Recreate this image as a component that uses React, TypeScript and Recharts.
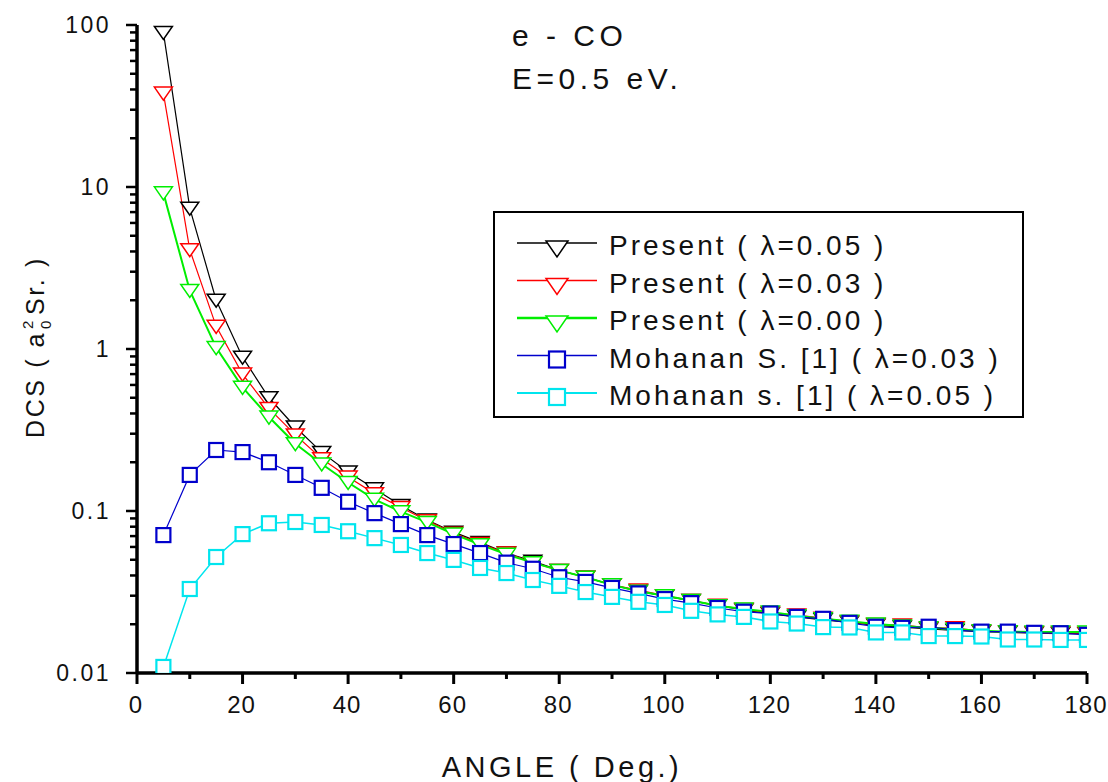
import React from "react";
import {
  LineChart,
  Line,
  XAxis,
  YAxis,
  Legend,
} from "recharts";

// Scattering angles (deg.)
const angles = [
  5, 10, 15, 20, 25, 30, 35, 40, 45, 50, 55, 60, 65, 70, 75, 80, 85, 90,
  95, 100, 105, 110, 115, 120, 125, 130, 135, 140, 145, 150, 155, 160, 165, 170, 175, 180,
];

// Present ( λ=0.05 )
const present005 = [
  90, 7.4, 2.0, 0.89, 0.5, 0.33, 0.23, 0.174, 0.137, 0.108, 0.088, 0.074, 0.064, 0.055,
  0.049, 0.043, 0.039, 0.035, 0.032, 0.0298, 0.028, 0.026, 0.0245, 0.0232, 0.0222, 0.0213,
  0.0205, 0.0197, 0.0192, 0.0187, 0.0183, 0.018, 0.0178, 0.0176, 0.0175, 0.0175,
];

// Present ( λ=0.03 )
const present003 = [
  38, 4.1, 1.38, 0.7, 0.43, 0.295, 0.21, 0.162, 0.128, 0.105, 0.087, 0.073, 0.063, 0.055,
  0.048, 0.043, 0.039, 0.035, 0.0325, 0.03, 0.028, 0.0262, 0.0247, 0.0235, 0.0228, 0.0218,
  0.0207, 0.0199, 0.0198, 0.0189, 0.019, 0.0181, 0.018, 0.0177, 0.0177, 0.0176,
];

// Present ( λ=0.00 )
const present000 = [
  9.2, 2.3, 1.02, 0.58, 0.38, 0.26, 0.195, 0.15, 0.118, 0.099, 0.085, 0.072, 0.062, 0.054,
  0.048, 0.043, 0.039, 0.035, 0.032, 0.03, 0.028, 0.026, 0.0248, 0.0238, 0.0226, 0.0216,
  0.0209, 0.0201, 0.0195, 0.019, 0.0186, 0.0182, 0.018, 0.0179, 0.0179, 0.0179,
];

// Mohanan S. [1] ( λ=0.03 )
const mohanan003 = [
  0.071, 0.167, 0.238, 0.231, 0.2, 0.167, 0.139, 0.114, 0.097, 0.083, 0.071, 0.0625, 0.055,
  0.048, 0.044, 0.039, 0.0365, 0.0335, 0.031, 0.0286, 0.027, 0.0252, 0.0239, 0.0233, 0.0222,
  0.0216, 0.0204, 0.0193, 0.019, 0.0193, 0.0184, 0.018, 0.018, 0.0177, 0.0176, 0.0172,
];

// Mohanan s. [1] ( λ=0.05 )
const mohanan005 = [
  0.0109, 0.033, 0.052, 0.072, 0.084, 0.0855, 0.082, 0.075, 0.068, 0.0617, 0.055, 0.0499,
  0.0445, 0.0414, 0.0375, 0.0345, 0.0316, 0.0295, 0.0275, 0.0263, 0.0242, 0.023, 0.0222,
  0.0208, 0.0202, 0.0192, 0.0191, 0.0178, 0.0178, 0.0169, 0.0169, 0.0168, 0.0161, 0.0161,
  0.016, 0.016,
];

const xTicks = [0, 10, 20, 30, 40, 50, 60, 70, 80, 90, 100, 110, 120, 130, 140, 150, 160, 170, 180];
const xTickLabels = ["0", "20", "40", "60", "80", "100", "120", "140", "160", "180"];
const yDecades = [0.01, 0.1, 1, 10, 100];
const yTickLabels = ["0.01", "0.1", "1", "10", "100"];

const FONT = "'Liberation Sans', Arial, sans-serif";

const series = [
  { key: "p005", name: "Present ( λ=0.05 )", values: present005, color: "#000000", width: 1.2, shape: "tri" },
  { key: "p003", name: "Present ( λ=0.03 )", values: present003, color: "#ff0000", width: 1.2, shape: "tri" },
  { key: "p000", name: "Present ( λ=0.00 )", values: present000, color: "#00ee00", width: 2, shape: "tri" },
  { key: "m003", name: "Mohanan S. [1] ( λ=0.03 )", values: mohanan003, color: "#0000cc", width: 1.2, shape: "sq" },
  { key: "m005", name: "Mohanan s. [1] ( λ=0.05 )", values: mohanan005, color: "#00e5ee", width: 1.5, shape: "sq" },
];

const data = angles.map((a, i) => {
  const row: any = { angle: a };
  series.forEach((s) => {
    row[s.key] = s.values[i];
  });
  return row;
});

// minor ticks for the log axis
const yTicks: number[] = [];
yDecades.slice(0, -1).forEach((d) => {
  for (let k = 1; k < 10; k++) yTicks.push(+(d * k).toPrecision(3));
});
yTicks.push(100);

const Marker = ({ cx, cy, color, shape, big }: any) => {
  if (cx == null || cy == null) return null;
  const w = big ? 11 : 9;
  if (shape === "tri") {
    return (
      <path
        d={`M${cx - w},${cy - 6} L${cx + w},${cy - 6} L${cx},${cy + (big ? 10 : 7)} Z`}
        fill="#fff"
        stroke={color}
        strokeWidth={1.5}
      />
    );
  }
  const h = big ? 8 : 7;
  return (
    <rect x={cx - h} y={cy - h} width={h * 2} height={h * 2} fill="#fff" stroke={color} strokeWidth={2.2} />
  );
};

const YTick = ({ x, y, payload }: any) => {
  const v = payload.value;
  const idx = yDecades.findIndex((d) => Math.abs(d - v) / d < 1e-6);
  const major = idx >= 0;
  return (
    <g>
      <line x1={x} x2={x - (major ? 11 : 7)} y1={y} y2={y} stroke="#000" strokeWidth={2.5} />
      {major && (
        <text x={111} y={y + 8} textAnchor="end" fontFamily={FONT} fontSize={23} letterSpacing={2.5} fill="#111">
          {yTickLabels[idx]}
        </text>
      )}
    </g>
  );
};

const XTick = ({ x, y, payload }: any) => {
  const v = payload.value;
  const major = v % 20 === 0;
  return (
    <g>
      <line x1={x} x2={x} y1={y} y2={y + (major ? 11 : 6)} stroke="#000" strokeWidth={3} />
      {major && (
        <text x={x - 1} y={y + 40} textAnchor="middle" fontFamily={FONT} fontSize={24} letterSpacing={1} fill="#111">
          {xTickLabels[v / 20]}
        </text>
      )}
    </g>
  );
};

const XLabel = () => (
  <text x={562} y={777} textAnchor="middle" fontFamily={FONT} fontSize={29} letterSpacing={3.5} fill="#111">
    ANGLE ( Deg.)
  </text>
);

const YLabel = () => (
  <text
    x={44}
    y={438}
    transform="rotate(-90 44 438)"
    fontFamily={FONT}
    fontSize={25}
    letterSpacing={2.6}
    fill="#111"
  >
    DCS ( a
    <tspan fontSize={15} dy={-11} dx={2}>2</tspan>
    <tspan fontSize={15} dy={18} dx={-11}>0</tspan>
    <tspan dy={-7} dx={3}>Sr. )</tspan>
  </text>
);

const LegendBox = () => (
  <svg width={531} height={207} style={{ display: "block" }}>
    <rect x={1} y={1} width={529} height={205} fill="#fff" stroke="#000" strokeWidth={2} />
    {series.map((s, i) => {
      const ly = 32 + i * 37.5;
      return (
        <g key={s.key}>
          <line x1={24} x2={104} y1={ly} y2={ly} stroke={s.color} strokeWidth={s.width + 0.5} />
          <Marker cx={64} cy={ly + 4} color={s.color} shape={s.shape} big />
          <text x={116} y={ly + 12} fontFamily={FONT} fontSize={28} letterSpacing={3} fill="#111">
            {s.name}
          </text>
        </g>
      );
    })}
  </svg>
);

export default function App() {
  return (
    <div style={{ position: "absolute", left: 0, top: 0, width: 1108, height: 782, background: "#fff" }}>
      <LineChart
        width={1108}
        height={782}
        data={data}
        margin={{ top: 25, right: 21, bottom: 0, left: 0 }}
      >
        <XAxis
          dataKey="angle"
          type="number"
          domain={[0, 180]}
          ticks={xTicks}
          interval={0}
          height={109}
          tickSize={0}
          tickMargin={0}
          tick={<XTick />}
          axisLine={{ stroke: "#000", strokeWidth: 3.5 }}
          allowDataOverflow
          label={<XLabel />}
        />
        <YAxis
          type="number"
          scale="log"
          domain={[0.01, 100]}
          ticks={yTicks}
          interval={0}
          width={137}
          tickSize={0}
          tickMargin={0}
          tick={<YTick />}
          axisLine={{ stroke: "#000", strokeWidth: 3.5 }}
          allowDataOverflow
          label={<YLabel />}
        />
        <Legend
          layout="vertical"
          align="center"
          verticalAlign="middle"
          wrapperStyle={{ left: 493, top: 211, width: 531, height: 207 }}
          content={() => <LegendBox />}
        />
        {series.map((s) => (
          <Line
            key={s.key}
            type="linear"
            dataKey={s.key}
            name={s.name}
            stroke={s.color}
            strokeWidth={s.width}
            isAnimationActive={false}
            dot={(p: any) => <Marker key={`${s.key}-${p.index}`} cx={p.cx} cy={p.cy} color={s.color} shape={s.shape} />}
            activeDot={false}
          />
        ))}
      </LineChart>
      <div
        style={{
          position: "absolute",
          left: 512,
          top: 14,
          fontFamily: FONT,
          fontSize: 30,
          letterSpacing: 4.5,
          lineHeight: "43px",
          color: "#111",
        }}
      >
        <div>e - CO</div>
        <div>E=0.5 eV.</div>
      </div>
    </div>
  );
}
